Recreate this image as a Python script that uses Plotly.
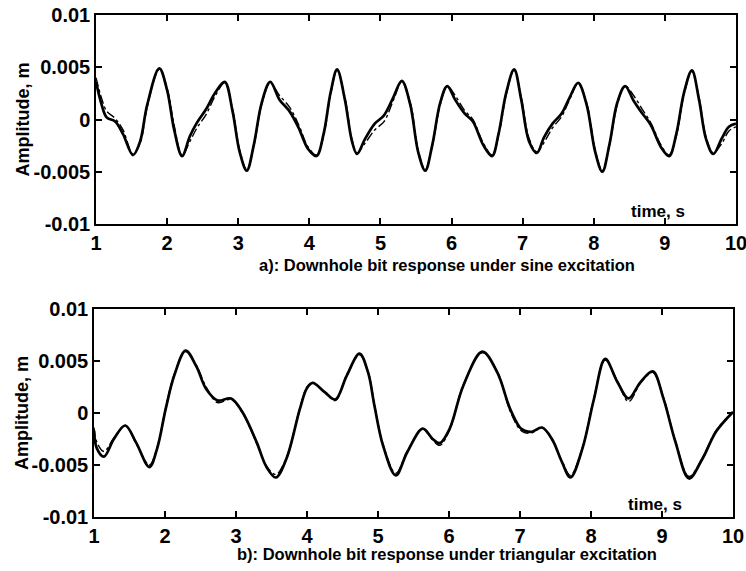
import plotly.graph_objects as go

# ---- a) sine excitation -------------------------------------------------
sine_t = [1.00, 1.08, 1.15, 1.27, 1.38, 1.52, 1.62, 1.72, 1.89, 2.00, 2.10, 2.21,
          2.32, 2.42, 2.55, 2.68, 2.81, 2.92, 3.02, 3.12, 3.22, 3.33, 3.45, 3.58,
          3.72, 3.85, 3.98, 4.10, 4.20, 4.30, 4.39, 4.50, 4.60, 4.67, 4.78, 4.92,
          5.05, 5.18, 5.30, 5.42, 5.53, 5.63, 5.73, 5.84, 5.94, 6.05, 6.18, 6.30,
          6.45, 6.57, 6.66, 6.77, 6.88, 6.98, 7.09, 7.20, 7.30, 7.42, 7.55, 7.66,
          7.78, 7.90, 8.02, 8.12, 8.22, 8.33, 8.44, 8.56, 8.68, 8.80, 8.95, 9.06,
          9.16, 9.27, 9.38, 9.48, 9.58, 9.68, 9.80, 9.90, 10.00]
sine_solid = [0.0036, 0.0014, 0.0002, -0.0002, -0.0014, -0.0034, -0.0021, 0.0014, 0.0049, 0.0028, -0.0010, -0.0035,
              -0.0016, -0.0003, 0.0010, 0.0026, 0.0036, 0.0008, -0.0031, -0.0049, -0.0024, 0.0016, 0.0036, 0.0019,
              0.0008, -0.0008, -0.0028, -0.0035, -0.0014, 0.0026, 0.0048, 0.0019, -0.0021, -0.0033, -0.0019, -0.0004,
              0.0004, 0.0021, 0.0037, 0.0014, -0.0031, -0.0049, -0.0024, 0.0016, 0.0032, 0.0019, 0.0006, -0.0002,
              -0.0025, -0.0035, -0.0014, 0.0026, 0.0048, 0.0019, -0.0021, -0.0032, -0.0017, -0.0004, 0.0006, 0.0021,
              0.0035, 0.0014, -0.0031, -0.0050, -0.0024, 0.0016, 0.0032, 0.0018, 0.0006, -0.0005, -0.0027, -0.0035,
              -0.0014, 0.0026, 0.0047, 0.0019, -0.0019, -0.0033, -0.0018, -0.0007, -0.0004]
sine_dash = [0.0040, 0.0020, 0.0008, 0.0001, -0.0010, -0.0033, -0.0023, 0.0012, 0.0048, 0.0030, -0.0006, -0.0034,
             -0.0021, -0.0008, 0.0005, 0.0023, 0.0035, 0.0010, -0.0029, -0.0048, -0.0025, 0.0014, 0.0035, 0.0023,
             0.0012, -0.0005, -0.0026, -0.0034, -0.0016, 0.0024, 0.0047, 0.0021, -0.0019, -0.0032, -0.0023, -0.0010,
             -0.0002, 0.0018, 0.0036, 0.0016, -0.0029, -0.0048, -0.0025, 0.0014, 0.0032, 0.0023, 0.0009, 0.0000,
             -0.0023, -0.0034, -0.0016, 0.0024, 0.0047, 0.0021, -0.0018, -0.0031, -0.0022, -0.0008, 0.0003, 0.0019,
             0.0034, 0.0016, -0.0029, -0.0049, -0.0025, 0.0014, 0.0032, 0.0023, 0.0010, -0.0003, -0.0025, -0.0034,
             -0.0016, 0.0024, 0.0046, 0.0021, -0.0017, -0.0032, -0.0023, -0.0011, -0.0007]

# ---- b) triangular excitation -------------------------------------------
tri_t = [1.00, 1.04, 1.14, 1.28, 1.44, 1.59, 1.78, 1.89, 2.01, 2.13, 2.29, 2.44,
         2.58, 2.74, 2.93, 3.09, 3.29, 3.43, 3.56, 3.71, 3.90, 4.00, 4.08, 4.25,
         4.40, 4.56, 4.74, 4.86, 4.95, 5.07, 5.25, 5.41, 5.63, 5.77, 5.87, 6.01,
         6.20, 6.47, 6.68, 6.86, 7.00, 7.07, 7.17, 7.31, 7.45, 7.59, 7.71, 7.88,
         8.04, 8.20, 8.37, 8.53, 8.70, 8.87, 9.02, 9.19, 9.38, 9.57, 9.76, 10.00]
tri_solid = [-0.0017, -0.0034, -0.0042, -0.0025, -0.0012, -0.0028, -0.0052, -0.0034, 0.0004, 0.0036, 0.0060, 0.0045,
             0.0023, 0.0012, 0.0014, 0.0001, -0.0028, -0.0052, -0.0062, -0.0044, 0.0004, 0.0024, 0.0029, 0.0020,
             0.0013, 0.0036, 0.0057, 0.0039, 0.0007, -0.0031, -0.0060, -0.0038, -0.0015, -0.0025, -0.0029, -0.0015,
             0.0026, 0.0059, 0.0039, 0.0004, -0.0014, -0.0017, -0.0018, -0.0014, -0.0025, -0.0047, -0.0062, -0.0034,
             0.0013, 0.0052, 0.0030, 0.0014, 0.0030, 0.0040, 0.0014, -0.0028, -0.0063, -0.0044, -0.0018, 0.0001]
tri_dash = [-0.0014, -0.0028, -0.0037, -0.0024, -0.0012, -0.0029, -0.0050, -0.0033, 0.0005, 0.0037, 0.0059, 0.0046,
            0.0025, 0.0010, 0.0013, 0.0000, -0.0029, -0.0051, -0.0059, -0.0043, 0.0005, 0.0025, 0.0029, 0.0020,
            0.0012, 0.0037, 0.0056, 0.0040, 0.0008, -0.0030, -0.0058, -0.0037, -0.0015, -0.0026, -0.0031, -0.0016,
            0.0027, 0.0058, 0.0040, 0.0002, -0.0016, -0.0019, -0.0019, -0.0014, -0.0026, -0.0046, -0.0060, -0.0033,
            0.0014, 0.0051, 0.0031, 0.0011, 0.0029, 0.0039, 0.0015, -0.0027, -0.0061, -0.0043, -0.0017, 0.0001]

x_ticks = [1, 2, 3, 4, 5, 6, 7, 8, 9, 10]
y_ticks = [-0.01, -0.005, 0, 0.005, 0.01]
y_tick_text = ["-0.01", "-0.005", "0", "0.005", "0.01"]

captions = ["a): Downhole bit response under sine excitation",
            "b): Downhole bit response under triangular excitation"]
x_label = "time, s"
y_label = "Amplitude, m"

W, H = 746, 571
FAMILY = "Liberation Sans, Arial, sans-serif"
TICK_FONT = dict(family=FAMILY, size=20, color="black", weight="bold")
LABEL_FONT = dict(family=FAMILY, size=18, color="black", weight="bold")
CAPTION_FONT = dict(family=FAMILY, size=16.5, color="black", weight="bold")
TIME_FONT = dict(family=FAMILY, size=17, color="black", weight="bold")

fig = go.Figure()

panels = [(sine_t, sine_solid, sine_dash, "x", "y"),
          (tri_t, tri_solid, tri_dash, "x2", "y2")]
for t, solid, dash, xa, ya in panels:
    fig.add_trace(go.Scatter(x=t, y=dash, mode="lines", xaxis=xa, yaxis=ya,
                             line=dict(color="black", width=1.4, dash="dashdot", shape="spline"),
                             showlegend=False, hoverinfo="skip"))
    fig.add_trace(go.Scatter(x=t, y=solid, mode="lines", xaxis=xa, yaxis=ya,
                             line=dict(color="black", width=2.7, shape="spline"),
                             showlegend=False, hoverinfo="skip"))

# plot-area boxes in pixels (left, right, top, bottom)
boxes = [(96, 736, 15, 224), (94, 733, 309, 517)]

axis_common = dict(showgrid=False, zeroline=False, showline=True, linecolor="black",
                   linewidth=1.5, mirror="ticks", ticks="inside", ticklen=6,
                   tickwidth=1.5, tickcolor="black", tickfont=TICK_FONT,
                   automargin=False, ticklabeloverflow="allow")

layout = dict(template="none", width=W, height=H, margin=dict(l=0, r=0, t=0, b=0, pad=0),
              paper_bgcolor="white", plot_bgcolor="white", showlegend=False)

annotations = []
for i, (l, r, top, bot) in enumerate(boxes):
    suf = "" if i == 0 else "2"
    layout["xaxis" + suf] = dict(axis_common, domain=[l / W, r / W], range=[1, 10],
                                 tickvals=x_ticks, anchor="y" + suf)
    layout["yaxis" + suf] = dict(axis_common, domain=[(H - bot) / H, (H - top) / H],
                                 range=[-0.01, 0.01], tickvals=y_ticks,
                                 ticktext=y_tick_text, anchor="x" + suf)
    mid_y = (H - (top + bot) / 2) / H
    annotations.append(dict(text=y_label, xref="paper", yref="paper", x=22 / W, y=mid_y,
                            textangle=-90, showarrow=False, font=LABEL_FONT,
                            xanchor="center", yanchor="middle"))
    annotations.append(dict(text=x_label, xref="x" + suf, yref="y" + suf + " domain",
                            x=8.9, y=0, yanchor="bottom", xanchor="center", yshift=1,
                            showarrow=False, font=TIME_FONT))
    cap_y = [265, 554][i]
    annotations.append(dict(text=captions[i], xref="paper", yref="paper",
                            x=447 / W, y=(H - cap_y) / H, xanchor="center", yanchor="middle",
                            showarrow=False, font=CAPTION_FONT))

layout["annotations"] = annotations
fig.update_layout(**layout)
fig.write_html("out.html")
